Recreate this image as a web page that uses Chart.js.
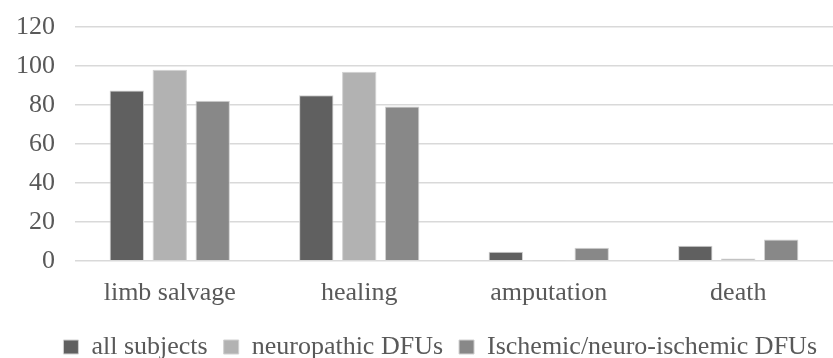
<!DOCTYPE html>
<html>
<head>
<meta charset="utf-8">
<script src="https://cdn.jsdelivr.net/npm/chart.js@4"></script>
<style>
  html, body { margin: 0; padding: 0; background: #fff; }
  #wrap { width: 833px; height: 358px; }
</style>
</head>
<body>
<div id="wrap"><canvas id="chart" width="833" height="358"></canvas></div>
<script>
const categories = ['limb salvage', 'healing', 'amputation', 'death'];
const allSubjects = [87.5, 85, 4.6, 7.7];
const neuropathic = [98.1, 97.1, 0.3, 1.2];
const ischemic = [82.2, 79.3, 6.7, 10.9];
const yTicks = [0, 20, 40, 60, 80, 100, 120];

const serif = "'Liberation Serif', 'Times New Roman', serif";

const ctx = document.getElementById('chart').getContext('2d');
new Chart(ctx, {
  type: 'bar',
  data: {
    labels: categories,
    datasets: [
      { label: 'all subjects', data: allSubjects, backgroundColor: '#606060' },
      { label: 'neuropathic DFUs', data: neuropathic, backgroundColor: '#b2b2b2' },
      { label: 'Ischemic/neuro-ischemic DFUs', data: ischemic, backgroundColor: '#888888' },
    ],
  },
  options: {
    responsive: false,
    animation: false,
    // negative padding pulls the axis labels and legend closer to the canvas edges
    layout: { padding: { top: -6, right: 0, left: -4, bottom: -12 } },
    datasets: {
      bar: {
        categoryPercentage: 0.68,
        barPercentage: 0.8,
        borderColor: '#d0d0d0',
        borderWidth: 1,
      },
    },
    scales: {
      y: {
        min: 0,
        max: 120,
        afterBuildTicks: (axis) => { axis.ticks = yTicks.map((v) => ({ value: v })); },
        border: { display: false },
        grid: { color: '#d9d9d9', lineWidth: 1.5, drawTicks: false },
        ticks: { color: '#595959', font: { family: serif, size: 26, lineHeight: 0.55 }, padding: 20 },
      },
      x: {
        border: { display: false },
        grid: { display: false },
        ticks: { color: '#595959', font: { family: serif, size: 26 }, padding: 9 },
      },
    },
    plugins: {
      legend: {
        position: 'bottom',
        align: 'end',
        labels: {
          color: '#595959',
          font: { family: serif, size: 26 },
          boxWidth: 15,
          boxHeight: 14,
          padding: 16,
        },
      },
      tooltip: { enabled: false },
    },
  },
});
</script>
</body>
</html>
